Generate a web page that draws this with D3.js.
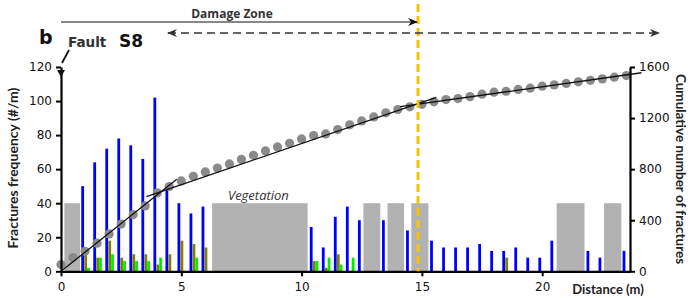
<!DOCTYPE html>
<html>
<head>
<meta charset="utf-8">
<script src="https://cdn.jsdelivr.net/npm/d3@7"></script>
<style>
  body { margin: 0; background: #fff; }
  text { font-family: "DejaVu Sans", sans-serif; }
</style>
</head>
<body>
<div id="wrap"></div>
<script>
var w = 690;
var h = 298;

// bar positions along the scanline (m) and frequencies (#/m)
var barPos = [0.9,1.4,1.9,2.4,2.9,3.4,3.9,4.4,4.9,5.4,5.9,
              10.4,10.9,11.4,11.9,12.4,13.4,14.4,
              15.4,15.9,16.4,16.9,17.4,17.9,18.4,18.9,19.4,19.9,20.4,
              21.9,22.4,23.4];
var blueFreq = [50,64,72,78,74,66,102,48,40,34,38,
                26,14,32,38,30,30,24,
                18,14,14,14,16,12,12,14,8,8,18,
                12,8,12];
var oliveFreq = [10,8,18,8,10,10,4,10,18,16,14,
                 6,2,10,0,0,0,0,
                 0,0,0,0,0,0,8,0,0,0,0,
                 0,0,0];
var greenFreq = [2,8,10,6,6,6,8,0,0,8,0,
                 6,8,4,8,0,0,0,
                 0,0,0,0,0,0,0,0,0,0,0,
                 0,0,0];

// cumulative number of fractures, every 0.5 m
var cumDist = [0,0.5,1,1.5,2,2.5,3,3.5,4,4.5,5,5.5,6,6.5,7,7.5,
               8,8.5,9,9.5,10,10.5,11,11.5,12,12.5,13,13.5,14,14.5,15,15.5,16,16.5,
               17,17.5,18,18.5,19,19.5,20,20.5,21,21.5,22,22.5,23,23.5];
var cumCount = [53,108,157,220,293,370,444,512,614,664,708,744,778,809,841,876,
                908,943,974,1002,1037,1063,1076,1110,1147,1178,1209,1241,1267,1288,1308,1327,1345,1353,
                1368,1387,1403,1410,1424,1434,1450,1460,1471,1484,1496,1507,1520,1533];

// vegetation / no data intervals (m)
var vegStart = [0.14,6.28,12.57,13.57,14.56,20.6,22.57];
var vegEnd   = [0.79,10.25,13.27,14.26,15.27,21.76,23.29];
var vegLevel = 40;

// fitted trend segments [x0, cum0, x1, cum1]
var fitLines = [[0,0,4.81,720],[3.55,584,15.6,1363],[14.1,1289,24.13,1555]];

var damageEnd = 14.84;
var leftTicks = [0,20,40,60,80,100,120];
var rightTicks = [0,400,800,1200,1600];
var xTicks = [0,5,10,15,20];

var x = d3.scaleLinear().domain([0, 23.65]).range([61, 630]);
var y = d3.scaleLinear().domain([0, 120]).range([271.3, 67]);
var y2 = d3.scaleLinear().domain([0, 1600]).range([271.3, 67]);

var svg = d3.select("#wrap").append("svg").attr("width", w).attr("height", h);

var defs = svg.append("defs");
function marker(id, color) {
  defs.append("marker").attr("id", id)
    .attr("viewBox", "0 0 10 10").attr("refX", 9).attr("refY", 5)
    .attr("markerWidth", 10).attr("markerHeight", 10).attr("markerUnits", "userSpaceOnUse")
    .attr("orient", "auto-start-reverse")
    .append("path").attr("d", "M0,1 L10,5 L0,9 L3,5 Z").attr("fill", color);
}
marker("arrSolid", "#111");
marker("arrDash", "#333");

// vegetation boxes
svg.selectAll("rect.veg").data(vegStart).enter().append("rect")
  .attr("class", "veg")
  .attr("x", function(d){ return x(d); })
  .attr("y", y(vegLevel))
  .attr("width", function(d, i){ return x(vegEnd[i]) - x(d); })
  .attr("height", y(0) - y(vegLevel))
  .attr("fill", "#b2b2b2");

svg.append("text").attr("x", 228).attr("y", 200)
  .style("font-family", "'Open Sans', sans-serif").style("font-style", "italic")
  .style("font-size", "13px").attr("fill", "#333").text("Vegetation");

// bars
var barW = 2.8;
var series = [
  { vals: blueFreq, color: "#0000ff", off: 0 },
  { vals: oliveFreq, color: "#808000", off: 3 },
  { vals: greenFreq, color: "#00ee00", off: 5.8 }
];
series.forEach(function(s) {
  svg.append("g").selectAll("rect").data(barPos).enter().append("rect")
    .attr("x", function(d){ return x(d) + s.off - barW / 2; })
    .attr("y", function(d, i){ return y(s.vals[i]); })
    .attr("width", barW)
    .attr("height", function(d, i){ return y(0) - y(s.vals[i]); })
    .attr("fill", s.color);
});

// cumulative dots
svg.append("g").selectAll("circle").data(cumDist).enter().append("circle")
  .attr("cx", function(d){ return x(d); })
  .attr("cy", function(d, i){ return y2(cumCount[i]); })
  .attr("r", 4.6)
  .attr("fill", "#8a8a8a");

// fitted lines
svg.append("g").selectAll("line").data(fitLines).enter().append("line")
  .attr("x1", function(d){ return x(d[0]); })
  .attr("y1", function(d){ return y2(d[1]); })
  .attr("x2", function(d){ return x(d[2]); })
  .attr("y2", function(d){ return y2(d[3]); })
  .attr("stroke", "#111").attr("stroke-width", 1.3);

// axes
var gl = svg.append("g").attr("transform", "translate(" + x(0) + ",0)")
  .call(d3.axisLeft(y).tickValues(leftTicks).tickSize(5).tickSizeOuter(0).tickPadding(4));
var gr = svg.append("g").attr("transform", "translate(" + x(23.65) + ",0)")
  .call(d3.axisRight(y2).tickValues(rightTicks).tickFormat(d3.format("d"))
    .tickSize(5).tickSizeOuter(0).tickPadding(4));
var gb = svg.append("g").attr("transform", "translate(0," + y(0) + ")")
  .call(d3.axisBottom(x).tickValues(xTicks).tickSize(5).tickSizeOuter(0).tickPadding(6));

[gl, gr, gb].forEach(function(g) {
  g.select(".domain").attr("stroke", "#000").attr("stroke-width", 2.2);
  g.selectAll(".tick line").attr("stroke", "#000").attr("stroke-width", 2);
  g.selectAll(".tick text").style("font-family", "'DejaVu Sans', sans-serif")
    .style("font-size", "12px").attr("fill", "#111");
});

// axis titles
svg.append("text").attr("transform", "translate(18," + 168 + ") rotate(-90)")
  .attr("text-anchor", "middle")
  .style("font-family", "Lato, sans-serif").style("font-weight", "bold").style("font-size", "14px")
  .attr("fill", "#222").text("Fractures frequency (#/m)");
svg.append("text").attr("transform", "translate(676," + 169 + ") rotate(90)")
  .attr("text-anchor", "middle")
  .style("font-family", "Lato, sans-serif").style("font-weight", "bold").style("font-size", "13.5px")
  .attr("fill", "#222").text("Cumulative number of fractures");
svg.append("text").attr("x", 608).attr("y", 294).attr("text-anchor", "middle")
  .style("font-family", "Lato, sans-serif").style("font-weight", "bold").style("font-size", "13px")
  .attr("fill", "#222").text("Distance (m)");

// damage zone boundary
svg.append("line")
  .attr("x1", x(damageEnd)).attr("x2", x(damageEnd))
  .attr("y1", 4).attr("y2", y(0))
  .attr("stroke", "#ffc000").attr("stroke-width", 3).attr("stroke-dasharray", "8,4");

// damage zone arrows
svg.append("line")
  .attr("x1", x(0)).attr("x2", x(damageEnd) - 1).attr("y1", 22).attr("y2", 22)
  .attr("stroke", "#111").attr("stroke-width", 1.2).attr("marker-end", "url(#arrSolid)");
svg.append("line")
  .attr("x1", 168).attr("x2", 659).attr("y1", 33).attr("y2", 33)
  .attr("stroke", "#333").attr("stroke-width", 1.3).attr("stroke-dasharray", "8,5")
  .attr("marker-start", "url(#arrDash)").attr("marker-end", "url(#arrDash)");
svg.append("text").attr("x", 232).attr("y", 18).attr("text-anchor", "middle")
  .style("font-family", "'Open Sans', sans-serif").style("font-weight", "bold").style("font-size", "12px")
  .attr("fill", "#333").text("Damage Zone");

// panel labels
svg.append("text").attr("x", 39).attr("y", 44)
  .style("font-weight", "bold").style("font-size", "19px").attr("fill", "#111").text("b");
svg.append("text").attr("x", 68).attr("y", 47)
  .style("font-weight", "bold").style("font-size", "13.5px").attr("fill", "#333").text("Fault");
svg.append("text").attr("x", 119).attr("y", 47)
  .style("font-weight", "bold").style("font-size", "17px").attr("fill", "#111").text("S8");

// fault marker
svg.append("path").attr("d", "M69,50 L62,63")
  .attr("stroke", "#111").attr("stroke-width", 1.8).attr("fill", "none");
svg.append("path").attr("d", "M57,70 L65,70 L61,77 Z").attr("fill", "#111");
</script>
</body>
</html>
